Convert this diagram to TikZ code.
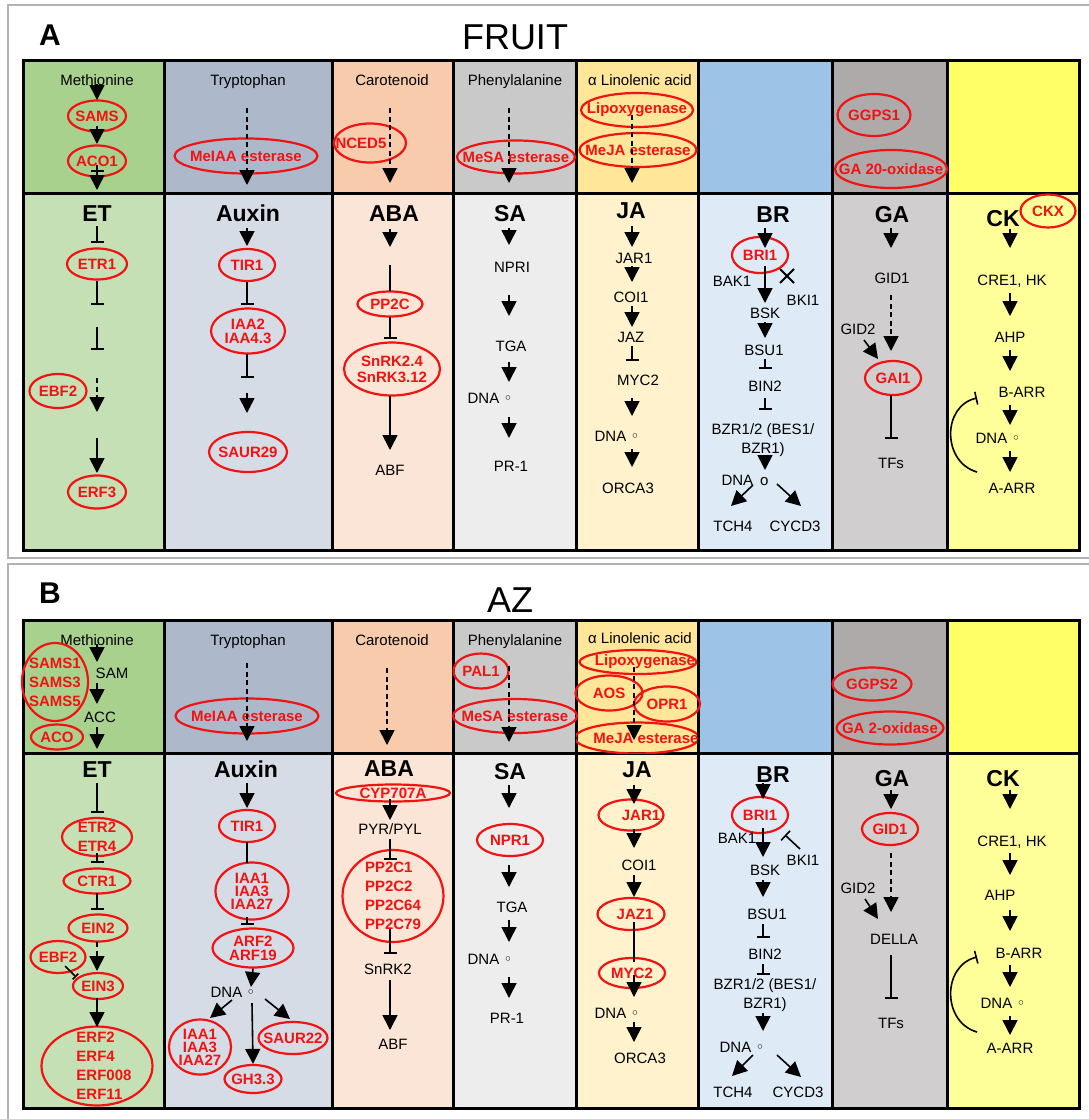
\documentclass[tikz,border=0pt]{standalone}
\usepackage{fontspec}
\setmainfont{Liberation Sans}
\newfontfamily\symf{DejaVu Sans}
\usetikzlibrary{arrows.meta,shapes.geometric}
\definecolor{etT}{HTML}{A9D18E}\definecolor{etB}{HTML}{C5E0B4}
\definecolor{auT}{HTML}{ADB9CA}\definecolor{auB}{HTML}{D6DCE5}
\definecolor{abT}{HTML}{F8CBAD}\definecolor{abB}{HTML}{FBE5D6}
\definecolor{saT}{HTML}{C9C9C9}\definecolor{saB}{HTML}{EDEDED}
\definecolor{jaT}{HTML}{FFE699}\definecolor{jaB}{HTML}{FFF2CC}
\definecolor{brT}{HTML}{9DC3E6}\definecolor{brB}{HTML}{DEEBF7}
\definecolor{gaT}{HTML}{AEAAAA}\definecolor{gaB}{HTML}{D0CECE}
\definecolor{ckT}{HTML}{FFFF66}\definecolor{ckB}{HTML}{FFFF99}
\definecolor{ered}{HTML}{F21212}
\newcommand{\dnaring}{{\symf\char"25E6}}
\newcommand{\vconn}[4][arr]{\draw[#1] (#2 |- 0,#3) -- (#2 |- 0,#4);}
\begin{document}
\begin{tikzpicture}[x=1pt,y=-1pt,
  lbl/.style={font=\fontsize{15}{18}\selectfont, inner sep=0pt, text height=10.8pt, text depth=0pt},
  mlbl/.style={font=\fontsize{15}{19}\selectfont, inner sep=0pt, align=center},
  hdr/.style={font=\fontsize{23}{25}\selectfont\bfseries, inner sep=0pt, text height=16.5pt, text depth=0pt},
  ell/.style 2 args={ellipse, draw=ered, line width=2.2pt, text=ered, font=\fontsize{15}{15}\selectfont\bfseries, align=center, minimum width=#1, minimum height=#2, inner xsep=-100pt, inner ysep=-100pt},
  lead/.style={font=\fontsize{15}{#1}\selectfont\bfseries},
  arr/.style={line width=1.6pt, -{Triangle[length=15pt,width=15pt]}},
  darr/.style={arr, dash pattern=on 5pt off 3.5pt},
  inh/.style={line width=1.6pt, -{Bar[width=13pt]}},
  plain/.style={line width=1.6pt},
  gridl/.style={line width=3pt, line cap=rect},
  pframe/.style={draw=black!30, line width=2pt},
  ttl/.style={font=\fontsize{36}{36}\selectfont, inner sep=0pt, text height=25.8pt, text depth=0pt},
  plet/.style={font=\fontsize{30}{30}\selectfont\bfseries, inner sep=0pt, text height=21.5pt, text depth=0pt},
]
\useasboundingbox (0,0) rectangle (1089,1119);
\fill[white] (0,0) rectangle (1089,1119);
\draw[pframe] (8,5) rectangle (1100,558);
\draw[pframe] (8,564) rectangle (1100,1130);

% column fills
\foreach \xl/\xr/\ct/\cb in {23/164/etT/etB,164/332/auT/auB,332/453/abT/abB,453/576/saT/saB,576/698/jaT/jaB,698/832/brT/brB,832/947/gaT/gaB,947/1079/ckT/ckB}{
  \fill[\ct] (\xl,60) rectangle (\xr,193);
  \fill[\cb] (\xl,193) rectangle (\xr,550);
  \fill[\ct] (\xl,620) rectangle (\xr,753);
  \fill[\cb] (\xl,753) rectangle (\xr,1108);
}
\draw[gridl] (23,60) rectangle (1079,550);
\draw[gridl] (23,193) -- (1079,193);
\draw[gridl] (23,620) rectangle (1079,1108);
\draw[gridl] (23,753) -- (1079,753);
\foreach \x in {164,332,453,576,698,832,947}{
  \draw[gridl] (\x,60) -- (\x,550);
  \draw[gridl] (\x,620) -- (\x,1108);
}

% titles
\node[plet] (pA) at (50,35) {A};
\node[ttl] (tA) at (515,37) {FRUIT};
\node[plet] (pB) at (50,593) {B};
\node[ttl] (tB) at (510,600) {AZ};

% axis coordinates
\coordinate (xET) at (97,0);
\coordinate (xAux) at (247,0);
\coordinate (xABA) at (390,0);
\coordinate (xABAb) at (387,0);
\coordinate (xSA) at (509,0);
\coordinate (xJA) at (632,0);
\coordinate (xJAb) at (634,0);
\coordinate (xBR) at (765,0);
\coordinate (xBRb) at (763,0);
\coordinate (xGA) at (891,0);
\coordinate (xCK) at (1010,0);

%%%%%%%%%%%%%%%% PANEL A
% ET
\node[lbl] (aMet) at (97,80) {Methionine};
\node[ell={58pt}{31pt}] (aSAMS) at (97,116) {SAMS};
\node[ell={58pt}{31pt}] (aACO) at (97,161) {ACO1};
\vconn{xET}{84}{100}
\vconn{xET}{126}{144}
\vconn[inh]{xET}{165}{172}
\vconn{xET}{172}{190}
\node[hdr] (aET) at (97,213) {ET};
\node[ell={60pt}{31pt}] (aETR1) at (97,264) {ETR1};
\node[ell={57pt}{34pt}] (aEBF2) at (58,391) {EBF2};
\node[ell={58pt}{33pt}] (aERF3) at (97,492) {ERF3};
\vconn[inh]{xET}{226}{243}
\vconn[inh]{xET}{281}{305}
\vconn[inh]{xET}{327}{350}
\vconn[darr]{xET}{378}{412}
\vconn{xET}{438}{473}
% Auxin
\node[lbl] (aTrp) at (248,80) {Tryptophan};
\node[ell={143pt}{35pt}] (aMeIAA) at (246,156) {MeIAA esterase};
\vconn[darr]{xAux}{108}{185}
\node[hdr] (aAux) at (248,213) {Auxin};
\node[ell={56pt}{32pt}] (aTIR1) at (247,265) {TIR1};
\node[ell={74pt}{45pt},lead=14] (aIAA) at (248,331) {IAA2\\IAA4.3};
\node[ell={78pt}{40pt}] (aSAUR) at (248,452) {SAUR29};
\vconn{xAux}{228}{246}
\vconn[inh]{xAux}{282}{305}
\vconn[inh]{xAux}{354}{378}
\vconn{xAux}{393}{413}
% ABA
\node[lbl] (aCar) at (392,80) {Carotenoid};
\node[ell={72pt}{39pt}] (aNCED5) at (370,143) {NCED5\hspace*{18pt}};
\vconn[darr]{xABA}{108}{183}
\node[hdr] (aABA) at (394,213) {ABA};
\node[ell={65pt}{25pt}] (aPP2C) at (390,304) {PP2C};
\node[ell={96pt}{53pt},lead=16] (aSnRK) at (392,369) {SnRK2.4\\SnRK3.12};
\node[lbl] (aABF) at (390,470) {ABF};
\vconn{xABA}{229}{247}
\vconn[plain]{xABA}{265}{291}
\vconn[inh]{xABA}{317}{339}
\vconn{xABA}{396}{450}
% SA
\node[lbl] (aPhe) at (515,80) {Phenylalanine};
\node[ell={118pt}{33pt}] (aMeSA) at (516,157) {MeSA esterase};
\vconn[darr]{xSA}{108}{183}
\node[hdr] (aSA) at (510,213) {SA};
\node[lbl] (aNPRI) at (512,267) {NPRI};
\node[lbl] (aTGA) at (511,346) {TGA};
\node[lbl] (aDNAsa) at (490,398) {DNA \dnaring};
\node[lbl] (aPR1) at (511,466) {PR-1};
\vconn{xSA}{228}{245}
\vconn{xSA}{295}{316}
\vconn{xSA}{362}{382}
\vconn{xSA}{417}{438}
% JA
\node[lbl] (aLin) at (640,80) {α Linolenic acid};
\node[ell={112pt}{34pt}] (aLOX) at (637,110) {Lipoxygenase};
\node[ell={117pt}{34pt}] (aMeJA) at (638,150) {MeJA esterase};
\vconn[darr]{xJA}{115}{183}
\node[hdr] (aJA) at (631,210) {JA};
\node[lbl] (aJAR1) at (634,258) {JAR1};
\node[lbl] (aCOI1) at (631,297) {COI1};
\node[lbl] (aJAZ) at (631,337) {JAZ};
\node[lbl] (aMYC2) at (638,380) {MYC2};
\node[lbl] (aDNAja) at (617,436) {DNA \dnaring};
\node[lbl] (aORCA3) at (628,488) {ORCA3};
\vconn{xJA}{226}{247}
\vconn{xJA}{266}{282}
\vconn{xJA}{306}{327}
\vconn[inh]{xJA}{346}{361}
\vconn{xJA}{398}{416}
\vconn{xJA}{449}{467}
% BR
\node[hdr] (aBR) at (773,214) {BR};
\node[ell={56pt}{36pt}] (aBRI1) at (760,255) {BRI1};
\node[lbl] (aBAK1) at (732,281) {BAK1};
\node[lbl] (aBKI1) at (803,300) {BKI1};
\node[lbl] (aBSK) at (765,313) {BSK};
\node[lbl] (aBSU1) at (764,350) {BSU1};
\node[lbl] (aBIN2) at (765,386) {BIN2};
\node[mlbl] (aBZR) at (763,440) {BZR1/2 (BES1/\\BZR1)};
\node[lbl] (aDNAbr) at (745,480) {DNA\hspace{7pt}o};
\node[lbl] (aTCH4) at (733,526) {TCH4};
\node[lbl] (aCYCD3) at (795,526) {CYCD3};
\vconn{xBR}{228}{248}
\vconn{xBR}{266}{303}
\draw[line width=2pt] (780,269) -- (794,283) (780,283) -- (794,269);
\vconn{xBR}{322}{338}
\vconn[inh]{xBR}{359}{369}
\vconn[inh]{xBR}{398}{410}
\vconn{xBR}{455}{470}
\draw[arr] (753,485) -- (731,506);
\draw[arr] (777,484) -- (801,506);
% GA
\node[ell={73pt}{42pt}] (aGGPS1) at (874,115) {GGPS1};
\node[ell={112pt}{38pt}] (aGA20) at (891,169) {GA 20-oxidase};
\node[hdr] (aGA) at (892,214) {GA};
\node[lbl] (aGID1) at (892,278) {GID1};
\node[lbl] (aGID2) at (858,329) {GID2};
\node[ell={56pt}{34pt}] (aGAI1) at (893,378) {GAI1};
\node[lbl] (aTFs) at (891,463) {TFs};
\vconn{xGA}{228}{248}
\vconn[darr]{xGA}{295}{351}
\draw[arr] (864,340) -- (878,359);
\vconn[inh]{xGA}{395}{439}
% CK
\node[hdr] (aCK) at (1003,218) {CK};
\node[ell={55pt}{33pt}] (aCKX) at (1048,211) {CKX};
\node[lbl] (aCRE1) at (1012,280) {CRE1, HK};
\node[lbl] (aAHP) at (1010,337) {AHP};
\node[lbl] (aBARR) at (1022,392) {B-ARR};
\node[lbl] (aDNAck) at (998,438) {DNA \dnaring};
\node[lbl] (aAARR) at (1012,488) {A-ARR};
\vconn{xCK}{229}{248}
\vconn{xCK}{293}{316}
\vconn{xCK}{350}{371}
\vconn{xCK}{405}{425}
\vconn{xCK}{451}{472}
\draw[inh] (977,472) .. controls (942,462) and (942,406) .. (977,398);

%%%%%%%%%%%%%%%% PANEL B
% ET
\node[lbl] (bMet) at (97,640) {Methionine};
\node[lbl] (bSAM) at (112,673) {SAM};
\node[lbl] (bACC) at (100,717) {ACC};
\node[ell={66pt}{78pt},lead=19] (bSAMS) at (55,682) {SAMS1\\SAMS3\\SAMS5};
\node[ell={52pt}{25pt}] (bACO) at (57,737) {ACO};
\vconn{xET}{644}{662}
\vconn{xET}{683}{704}
\vconn{xET}{727}{749}
\node[hdr] (bET) at (97,769) {ET};
\node[ell={70pt}{38pt},lead=19] (bETR) at (97,837) {ETR2\\ETR4};
\node[ell={67pt}{25pt}] (bCTR1) at (97,881) {CTR1};
\node[ell={59pt}{27pt}] (bEIN2) at (98,928) {EIN2};
\node[ell={55pt}{32pt}] (bEBF2) at (58,957) {EBF2};
\node[ell={50pt}{26pt}] (bEIN3) at (98,986) {EIN3};
\node[ell={111pt}{79pt},lead=19,align=left] (bERF) at (97,1066) {\hspace*{14pt}ERF2\\\hspace*{14pt}ERF4\\\hspace*{14pt}ERF008\\\hspace*{14pt}ERF11};
\vconn[inh]{xET}{783}{813}
\vconn[inh]{xET}{853}{863}
\vconn[inh]{xET}{893}{910}
\vconn[darr]{xET}{942}{971}
\draw[inh,-{Bar[width=8pt]}] (65,966) -- (76,977);
\vconn{xET}{998}{1027}
% Auxin
\node[lbl] (bTrp) at (248,640) {Tryptophan};
\node[ell={143pt}{35pt}] (bMeIAA) at (247,716) {MeIAA esterase};
\vconn[darr]{xAux}{663}{741}
\node[hdr] (bAux) at (246,769) {Auxin};
\node[ell={56pt}{32pt}] (bTIR1) at (247,826) {TIR1};
\node[ell={73pt}{57pt},lead=13] (bIAA) at (252,891) {IAA1\\IAA3\\IAA27};
\node[ell={81pt}{39pt},lead=14] (bARF) at (253,948) {ARF2\\ARF19};
\node[lbl] (bDNAaux) at (233,992) {DNA \dnaring};
\node[ell={62pt}{55pt},lead=13] (bIAAb) at (200,1047) {IAA1\\IAA3\\IAA27};
\node[ell={69pt}{32pt}] (bSAUR) at (293,1038) {SAUR22};
\node[ell={57pt}{28pt}] (bGH) at (253,1079) {GH3.3};
\vconn{xAux}{783}{808}
\vconn[plain]{xAux}{842}{863}
\vconn[inh]{xAux}{917}{925}
\draw[arr] (bARF.south) -- (251,987);
\draw[arr] (232,1000) -- (210,1018);
\draw[arr] (252,1003) -- (bGH.north);
\draw[arr] (265,999) -- (290,1019);
% ABA
\node[lbl] (bCar) at (392,640) {Carotenoid};
\vconn[darr]{xABAb}{668}{745}
\node[hdr] (bABA) at (389,768) {ABA};
\node[ell={114pt}{17pt}] (bCYP) at (393,793) {CYP707A};
\node[lbl] (bPYR) at (390,829) {PYR/PYL};
\node[ell={101pt}{92pt},lead=19,align=left] (bPP2C) at (393,896) {PP2C1\\PP2C2\\PP2C64\\PP2C79};
\node[lbl] (bSnRK2) at (388,969) {SnRK2};
\node[lbl] (bABF) at (393,1044) {ABF};
\vconn{xABA}{799}{820}
\vconn[inh]{xABA}{839}{860}
\vconn[inh]{xABA}{929}{954}
\vconn{xABA}{980}{1030}
% SA
\node[lbl] (bPhe) at (515,640) {Phenylalanine};
\node[ell={55pt}{35pt}] (bPAL1) at (481,671) {PAL1};
\node[ell={124pt}{34pt}] (bMeSA) at (515,716) {MeSA esterase};
\vconn[darr]{xSA}{666}{742}
\node[hdr] (bSA) at (510,771) {SA};
\node[ell={66pt}{32pt}] (bNPR1) at (510,840) {NPR1};
\node[lbl] (bTGA) at (512,907) {TGA};
\node[lbl] (bDNAsa) at (490,959) {DNA \dnaring};
\node[lbl] (bPR1) at (507,1018) {PR-1};
\vconn{xSA}{785}{808}
\vconn{xSA}{865}{887}
\vconn{xSA}{920}{942}
\vconn{xSA}{977}{998}
% JA
\node[lbl] (bLin) at (640,638) {α Linolenic acid};
\begin{scope}
\clip (576,620) rectangle (697,753);
\node[ell={117pt}{24pt}] (bLOX) at (638,662) {\hspace*{14pt}Lipoxygenase};
\node[ell={124pt}{31pt}] (bMeJA) at (637,738) {\hspace*{18pt}MeJA esterase};
\end{scope}
\node[ell={67pt}{35pt}] (bAOS) at (609,693) {AOS};
\node[ell={66pt}{35pt}] (bOPR1) at (667,704) {OPR1};
\vconn[darr]{xJAb}{667}{740}
\node[hdr] (bJA) at (637,769) {JA};
\node[ell={65pt}{31pt}] (bJAR1) at (631,815) {\hspace*{20pt}JAR1};
\node[lbl] (bCOI1) at (639,865) {COI1};
\node[ell={67pt}{32pt}] (bJAZ1) at (631,914) {\hspace*{8pt}JAZ1};
\node[ell={66pt}{30pt}] (bMYC2) at (632,973) {MYC2};
\node[lbl] (bDNAja) at (617,1013) {DNA \dnaring};
\node[lbl] (bORCA3) at (640,1058) {ORCA3};
\vconn{xJAb}{785}{804}
\vconn{xJAb}{829}{848}
\vconn{xJAb}{875}{897}
\vconn[plain]{xJAb}{922}{962}
\vconn{xJAb}{975}{997}
\vconn{xJAb}{1022}{1042}
% BR
\node[hdr] (bBR) at (773,774) {BR};
\node[ell={56pt}{36pt}] (bBRI1) at (760,815) {BRI1};
\node[lbl] (bBAK1) at (737,838) {BAK1};
\node[lbl] (bBKI1) at (803,860) {BKI1};
\node[lbl] (bBSK) at (765,870) {BSK};
\node[lbl] (bBSU1) at (767,914) {BSU1};
\node[lbl] (bBIN2) at (765,954) {BIN2};
\node[mlbl] (bBZR) at (765,995) {BZR1/2 (BES1/\\BZR1)};
\node[lbl] (bDNAbr) at (742,1047) {DNA \dnaring};
\node[lbl] (bTCH4) at (733,1092) {TCH4};
\node[lbl] (bCYCD3) at (798,1092) {CYCD3};
\vconn{xBRb}{783}{799}
\vconn{xBRb}{828}{857}
\draw[inh] (800,849) -- (785,835);
\vconn{xBRb}{880}{897}
\vconn[inh]{xBRb}{924}{938}
\vconn[inh]{xBRb}{964}{975}
\vconn{xBRb}{1013}{1031}
\draw[arr] (753,1055) -- (732,1076);
\draw[arr] (777,1055) -- (801,1077);
% GA
\node[ell={79pt}{33pt}] (bGGPS2) at (872,684) {GGPS2};
\node[ell={107pt}{33pt}] (bGA2) at (890,728) {GA 2-oxidase};
\node[hdr] (bGA) at (892,778) {GA};
\node[ell={56pt}{32pt}] (bGID1) at (890,829) {GID1};
\node[lbl] (bGID2) at (858,888) {GID2};
\node[lbl] (bDELLA) at (894,939) {DELLA};
\node[lbl] (bTFs) at (891,1023) {TFs};
\vconn{xGA}{790}{809}
\vconn[darr]{xGA}{853}{912}
\draw[arr] (865,899) -- (878,919);
\vconn[inh]{xGA}{955}{999}
% CK
\node[hdr] (bCK) at (1003,778) {CK};
\node[lbl] (bCRE1) at (1012,841) {CRE1, HK};
\node[lbl] (bAHP) at (1000,895) {AHP};
\node[lbl] (bBARR) at (1019,953) {B-ARR};
\node[lbl] (bDNAck) at (1003,1003) {DNA \dnaring};
\node[lbl] (bAARR) at (1010,1048) {A-ARR};
\vconn{xCK}{790}{809}
\vconn{xCK}{853}{875}
\vconn{xCK}{910}{931}
\vconn{xCK}{965}{987}
\vconn{xCK}{1016}{1035}
\draw[inh] (977,1032) .. controls (942,1022) and (942,966) .. (977,957);
\end{tikzpicture}
\end{document}
